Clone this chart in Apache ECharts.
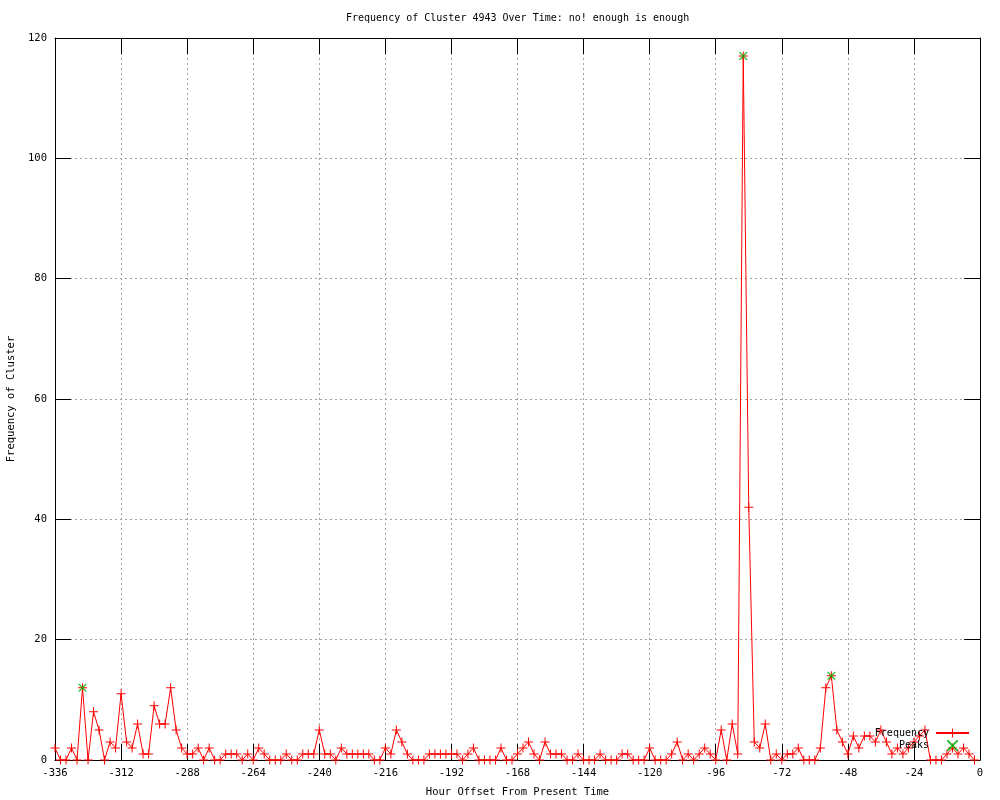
<!DOCTYPE html>
<html>
<head>
<meta charset="utf-8">
<script src="https://cdn.jsdelivr.net/npm/echarts@6/dist/echarts.min.js"></script>
<style>html,body{margin:0;padding:0;background:#fff;}#chart{width:1000px;height:800px;}</style>
</head>
<body>
<div id="chart"></div>
<script>
var titleText = 'Frequency of Cluster 4943 Over Time: no! enough is enough';
var xAxisName = 'Hour Offset From Present Time';
var yAxisName = 'Frequency of Cluster';

var hours = [
  -336,-334,-332,-330,-328,-326,-324,-322,-320,-318,-316,-314,
  -312,-310,-308,-306,-304,-302,-300,-298,-296,-294,-292,-290,
  -288,-286,-284,-282,-280,-278,-276,-274,-272,-270,-268,-266,
  -264,-262,-260,-258,-256,-254,-252,-250,-248,-246,-244,-242,
  -240,-238,-236,-234,-232,-230,-228,-226,-224,-222,-220,-218,
  -216,-214,-212,-210,-208,-206,-204,-202,-200,-198,-196,-194,
  -192,-190,-188,-186,-184,-182,-180,-178,-176,-174,-172,-170,
  -168,-166,-164,-162,-160,-158,-156,-154,-152,-150,-148,-146,
  -144,-142,-140,-138,-136,-134,-132,-130,-128,-126,-124,-122,
  -120,-118,-116,-114,-112,-110,-108,-106,-104,-102,-100,-98,
  -96,-94,-92,-90,-88,-86,-84,-82,-80,-78,-76,-74,
  -72,-70,-68,-66,-64,-62,-60,-58,-56,-54,-52,-50,
  -48,-46,-44,-42,-40,-38,-36,-34,-32,-30,-28,-26,
  -24,-22,-20,-18,-16,-14,-12,-10,-8,-6,-4,-2
];
var frequency = [
  2,0,0,2,0,12,0,8,5,0,3,2,
  11,3,2,6,1,1,9,6,6,12,5,2,
  1,1,2,0,2,0,0,1,1,1,0,1,
  0,2,1,0,0,0,1,0,0,1,1,1,
  5,1,1,0,2,1,1,1,1,1,0,0,
  2,1,5,3,1,0,0,0,1,1,1,1,
  1,1,0,1,2,0,0,0,0,2,0,0,
  1,2,3,1,0,3,1,1,1,0,0,1,
  0,0,0,1,0,0,0,1,1,0,0,0,
  2,0,0,0,1,3,0,1,0,1,2,1,
  0,5,0,6,1,117,42,3,2,6,0,1,
  0,1,1,2,0,0,0,2,12,14,5,3,
  1,4,2,4,4,3,5,3,1,2,1,2,
  3,4,5,0,0,0,1,2,1,2,1,0
];
var peakHours = [-326, -86, -54];
var peakValues = [12, 117, 14];

var xTicks = [-336,-312,-288,-264,-240,-216,-192,-168,-144,-120,-96,-72,-48,-24,0];

var freqData = hours.map(function (h, i) { return [h, frequency[i]]; });
var peakData = peakHours.map(function (h, i) { return [h, peakValues[i]]; });

var FONT = 'DejaVu Sans Mono';
var PLUS = 'path://M4,0h1v9h-1z M0,4h9v1h-9z';
var CROSS = 'path://M0,0 L1,0 L8,7 L8,8 L7,8 L0,1 Z M7,0 L8,0 L8,1 L1,8 L0,8 L0,7 Z';

var chart = echarts.init(document.getElementById('chart'), null, {renderer: 'canvas'});
var gridLine = {show: true, lineStyle: {color: '#a0a0a0', type: [2, 3], width: 1}};
var axisLine = {show: true, onZero: false, lineStyle: {color: '#000', width: 1}};
var tick = {show: true, inside: true, length: 16, lineStyle: {color: '#000', width: 1}};

chart.setOption({
  animation: false,
  backgroundColor: '#fff',
  title: {
    text: titleText, left: 346, top: 13, padding: 0,
    textStyle: {fontFamily: FONT, fontSize: 10, fontWeight: 'normal', color: '#000'}
  },
  grid: {left: 55, right: 20, top: 38, bottom: 40, containLabel: false, outerBoundsMode: 'none'},
  legend: {
    orient: 'vertical', right: 30, top: 728, align: 'right',
    itemWidth: 33, itemHeight: 11, itemGap: 2, padding: 0,
    textStyle: {fontFamily: FONT, fontSize: 10, color: '#000', padding: [0, 2, 0, 0]},
    data: ['Frequency', 'Peaks']
  },
  xAxis: [{
    type: 'value', min: -336, max: 0, interval: 24, position: 'bottom',
    name: xAxisName, nameLocation: 'middle', nameGap: 27,
    nameTextStyle: {fontFamily: FONT, fontSize: 10.5, color: '#000'},
    axisLine: axisLine, axisTick: tick, splitLine: gridLine,
    axisLabel: {margin: 8, fontFamily: FONT, fontSize: 10.5, color: '#000',
      formatter: function (v) { return xTicks.indexOf(v) >= 0 ? String(v) : ''; }}
  }, {
    type: 'value', min: -336, max: 0, interval: 24, position: 'top',
    axisLine: axisLine, axisTick: tick, splitLine: {show: false}, axisLabel: {show: false}
  }],
  yAxis: [{
    type: 'value', min: 0, max: 120, interval: 20, position: 'left',
    name: yAxisName, nameLocation: 'middle', nameGap: 36, nameRotate: 90,
    nameTextStyle: {fontFamily: FONT, fontSize: 10.5, color: '#000'},
    axisLine: axisLine, axisTick: tick, splitLine: gridLine,
    axisLabel: {margin: 8, fontFamily: FONT, fontSize: 10.5, color: '#000'}
  }, {
    type: 'value', min: 0, max: 120, interval: 20, position: 'right',
    axisLine: axisLine, axisTick: tick, splitLine: {show: false}, axisLabel: {show: false}
  }],
  series: [{
    name: 'Frequency', type: 'line', data: freqData,
    xAxisIndex: 0, yAxisIndex: 0,
    symbol: PLUS, symbolSize: 9, showSymbol: true, showAllSymbol: true,
    lineStyle: {color: '#ff0000', width: 1},
    itemStyle: {color: '#ff0000'},
    emphasis: {disabled: true}, z: 2, clip: false
  }, {
    name: 'Peaks', type: 'scatter', data: peakData,
    xAxisIndex: 0, yAxisIndex: 0,
    symbol: CROSS, symbolSize: 8,
    itemStyle: {color: '#00b000'},
    emphasis: {disabled: true}, z: 3
  }]
});
</script>
</body>
</html>
